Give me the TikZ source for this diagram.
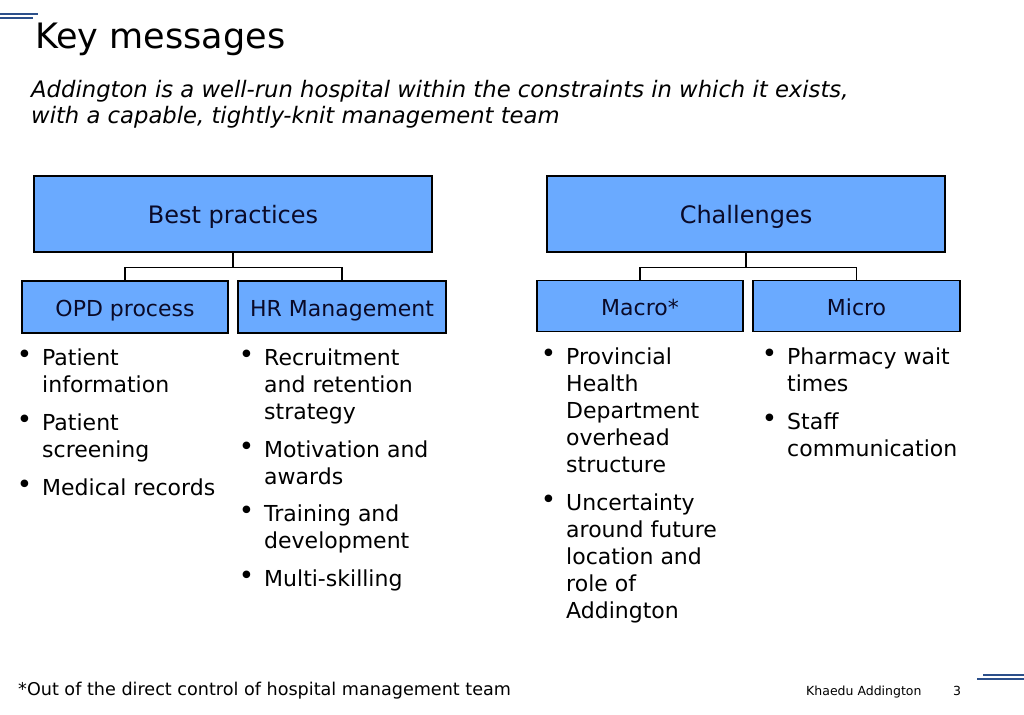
\documentclass[tikz,border=0pt]{standalone}
\usepackage{fontspec}
\setmainfont{DejaVu Sans}
\definecolor{boxblue}{HTML}{6AAAFF}
\definecolor{boxtext}{HTML}{0A0A28}
\definecolor{rule}{HTML}{2B4F8A}
\newcommand{\bl}{\makebox[0pt][r]{\raisebox{2pt}{\fontsize{26}{26}\selectfont •}\hspace{10pt}}}
\newcommand{\colbox}[1]{\parbox[t]{220pt}{\raggedright\fontsize{22}{27}\selectfont #1}}
\tikzset{
  x=1pt, y=-1pt,
  head/.style={draw=black, line width=1.4pt, fill=boxblue, text=boxtext, inner sep=0pt, text height=19pt, text depth=1pt, font=\fontsize{24}{28}\selectfont},
  sub/.style={draw=black, line width=1.4pt, fill=boxblue, text=boxtext, inner sep=0pt, text height=19pt, text depth=1pt, font=\fontsize{22}{26}\selectfont},
  col/.style={anchor=base west, inner sep=0pt},
  link/.style={draw=black, line width=1.4pt},
  deco/.style={draw=rule, line width=1.2pt}
}
\begin{document}
\begin{tikzpicture}
\useasboundingbox (0,0) rectangle (1024,714);
% decorative lines
\coordinate (tl1a) at (0,14); \coordinate (tl1b) at (38,14);
\coordinate (tl2a) at (0,18); \coordinate (tl2b) at (33,18);
\draw[deco] (tl1a) -- (tl1b);
\draw[deco] (tl2a) -- (tl2b);
\coordinate (br1a) at (983,675); \coordinate (br1b) at (1024,675);
\coordinate (br2a) at (977,679); \coordinate (br2b) at (1024,679);
\draw[deco] (br1a) -- (br1b);
\draw[deco] (br2a) -- (br2b);
% title
\node[anchor=base west, inner sep=0pt, font=\fontsize{35}{40}\selectfont] (title) at (35,49) {Key messages};
\node[anchor=base west, inner sep=0pt] (subtitle) at (31,98) {\parbox[t]{900pt}{\fontsize{22.7}{26}\selectfont\itshape Addington is a well-run hospital within the constraints in which it exists,\\with a capable, tightly-knit management team}};
% boxes
\node[head, minimum width=398pt, minimum height=76pt] (best) at (233,214) {Best practices};
\node[head, minimum width=398pt, minimum height=76pt] (chal) at (746,214) {Challenges};
\node[sub, minimum width=206pt, minimum height=52pt] (opd) at (125,307) {OPD process};
\node[sub, minimum width=208pt, minimum height=52pt] (hr) at (342,307) {HR Management};
\node[sub, minimum width=206pt, minimum height=51pt] (macro) at (640,306) {Macro*};
\node[sub, minimum width=207pt, minimum height=51pt] (micro) at (856.5,306) {Micro};
% connectors
\draw[link] (best.south) |- ++(0,15) -| (opd.north);
\draw[link] (best.south) |- ++(0,15) -| (hr.north);
\draw[link] (chal.south) |- ++(0,15) -| (macro.north);
\draw[link] (chal.south) |- ++(0,15) -| (micro.north);
% bullet lists
\node[col] (c1) at (42,365) {\colbox{\bl Patient\\information\\[11pt]\bl Patient\\screening\\[11pt]\bl Medical records}};
\node[col] (c2) at (264,365) {\colbox{\bl Recruitment\\and retention\\strategy\\[11pt]\bl Motivation and\\awards\\[10pt]\bl Training and\\development\\[11pt]\bl Multi-skilling}};
\node[col] (c3) at (566,364) {\colbox{\bl Provincial\\Health\\Department\\overhead\\structure\\[11pt]\bl Uncertainty\\around future\\location and\\role of\\Addington}};
\node[col] (c4) at (787,364) {\colbox{\bl Pharmacy wait\\times\\[11pt]\bl Staff\\communication}};
% footer
\node[anchor=base west, inner sep=0pt, font=\fontsize{17.6}{22}\selectfont] (note) at (18,695) {*Out of the direct control of hospital management team};
\node[anchor=base west, inner sep=0pt, font=\fontsize{12.5}{16}\selectfont] (auth) at (806,695) {Khaedu Addington};
\node[anchor=base west, inner sep=0pt, font=\fontsize{12.5}{16}\selectfont] (page) at (953,695) {3};
\end{tikzpicture}
\end{document}
